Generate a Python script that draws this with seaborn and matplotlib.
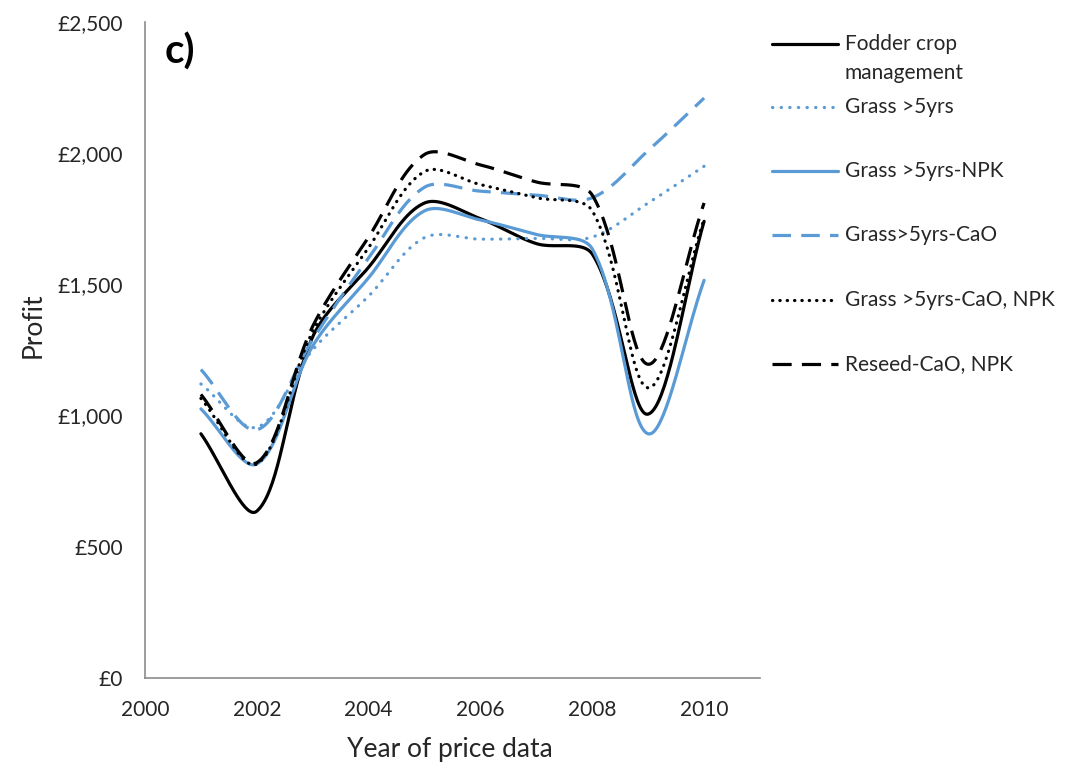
import numpy as np
import pandas as pd
import matplotlib
matplotlib.use("Agg")
import matplotlib.pyplot as plt
from matplotlib.lines import Line2D
from matplotlib.ticker import FuncFormatter
import seaborn as sns

# Profit per scenario, by year of price data
years = [2001, 2002, 2003, 2004, 2005, 2006, 2007, 2008, 2009, 2010]
fodder_crop = [930, 635, 1300, 1565, 1810, 1750, 1655, 1615, 1005, 1740]
grass_5yrs = [1120, 955, 1250, 1455, 1678, 1672, 1675, 1680, 1810, 1950]
grass_5yrs_npk = [1025, 815, 1265, 1525, 1780, 1745, 1690, 1635, 930, 1515]
grass_5yrs_cao = [1175, 945, 1290, 1600, 1870, 1855, 1840, 1830, 2010, 2210]
grass_5yrs_cao_npk = [1065, 815, 1320, 1640, 1930, 1880, 1830, 1780, 1105, 1750]
reseed_cao_npk = [1080, 820, 1340, 1680, 1995, 1955, 1890, 1840, 1195, 1810]

series_names = [
    "Fodder crop\nmanagement",
    "Grass >5yrs",
    "Grass >5yrs-NPK",
    "Grass>5yrs-CaO",
    "Grass >5yrs-CaO, NPK",
    "Reseed-CaO, NPK",
]
series_values = [fodder_crop, grass_5yrs, grass_5yrs_npk, grass_5yrs_cao,
                 grass_5yrs_cao_npk, reseed_cao_npk]

BLUE = "#5B9BD5"
BLACK = "#000000"
colors = [BLACK, BLUE, BLUE, BLUE, BLACK, BLACK]
dash_patterns = ["", (0.1, 2.6), "", (5.8, 3.2), (0.1, 2.2), (6.0, 3.2)]
round_dots = [False, True, False, False, True, False]
LW = 2.3

# screen scale of the plot area (pixels per year, pixels per pound)
SX, SY = 55.8, 0.2623


def smooth_curve(xs, ys, n=40):
    """Bezier smoothing through every point. The tangent at a point follows
    the chord between its neighbours; the arm lengths (a third of that chord
    in total) are shared out in proportion to the adjoining segments."""
    pts = np.column_stack([np.asarray(xs, float) * SX,
                           np.asarray(ys, float) * SY])
    m = len(pts)
    seg = np.hypot(*(pts[1:] - pts[:-1]).T)
    fwd = np.zeros_like(pts)
    back = np.zeros_like(pts)
    for i in range(m):
        a = pts[max(i - 1, 0)]
        b = pts[min(i + 1, m - 1)]
        chord = b - a
        lb = seg[i - 1] if i > 0 else 0.0
        lf = seg[i] if i < m - 1 else 0.0
        share = chord / 3.0 / (lb + lf)
        fwd[i] = share * lf
        back[i] = share * lb
    out = []
    for i in range(m - 1):
        p1, p2 = pts[i], pts[i + 1]
        c1 = p1 + fwd[i]
        c2 = p2 - back[i + 1]
        t = np.linspace(0, 1, n, endpoint=(i == m - 2))[:, None]
        bez = ((1 - t) ** 3) * p1 + 3 * ((1 - t) ** 2) * t * c1 \
            + 3 * (1 - t) * t ** 2 * c2 + t ** 3 * p2
        out.append(bez)
    curve = np.vstack(out)
    return curve[:, 0] / SX, curve[:, 1] / SY


frames = []
for name, vals in zip(series_names, series_values):
    cx, cy = smooth_curve(years, vals)
    frames.append(pd.DataFrame({"series": name, "year": cx, "profit": cy}))
df = pd.concat(frames, ignore_index=True)

sns.set_theme(style="white")
plt.rcParams["font.family"] = ["Lato", "DejaVu Sans"]

fig = plt.figure(figsize=(10.73, 7.71), dpi=100)
ax = fig.add_axes([145 / 1073, 1 - 677.7 / 771, 615 / 1073, 655.7 / 771])

sns.lineplot(
    data=df, x="year", y="profit", hue="series", style="series",
    hue_order=series_names, style_order=series_names,
    palette=dict(zip(series_names, colors)),
    dashes=dict(zip(series_names, dash_patterns)),
    sort=False, estimator=None, units="series", linewidth=LW,
    legend=False, ax=ax,
)
for line, rnd in zip(ax.lines, round_dots):
    if rnd:
        line.set_dash_capstyle("round")

ax.set_xlim(2000, 2011)
ax.set_ylim(0, 2500)
ax.set_xticks(range(2000, 2011, 2))
ax.set_yticks(range(0, 2501, 500))
ax.yaxis.set_major_formatter(FuncFormatter(lambda v, p: f"£{int(v):,}"))
ax.tick_params(axis="both", length=0, labelsize=15, colors="#262626")
ax.tick_params(axis="y", pad=16)
ax.tick_params(axis="x", pad=16)

for side in ["top", "right"]:
    ax.spines[side].set_visible(False)
for side in ["left", "bottom"]:
    ax.spines[side].set_color("#8C8C8C")
    ax.spines[side].set_linewidth(1.2)

ax.set_xlabel("Year of price data", fontsize=19, color="#262626")
ax.set_ylabel("Profit", fontsize=19, color="#262626")
ax.xaxis.set_label_coords(0.496, -0.109)
ax.xaxis.label.set_verticalalignment("center")
ax.yaxis.set_label_coords(-0.182, 0.538)
ax.yaxis.label.set_verticalalignment("center")

ax.text(0.032, 0.955, "c)", transform=ax.transAxes, fontsize=29,
        fontweight="bold", ha="left", va="center", color="#000000")

# Legend on the right-hand side
row_y = [44, 107, 171, 235, 300, 364]
for name, col, dsh, rnd, yy in zip(series_names, colors, dash_patterns,
                                   round_dots, row_y):
    yf = 1 - yy / 771
    ln = Line2D([772 / 1073, 838 / 1073], [yf, yf], transform=fig.transFigure,
                color=col, linewidth=LW)
    if dsh:
        ln.set_dashes(dsh)
    if rnd:
        ln.set_dash_capstyle("round")
    fig.add_artist(ln)
    first, *rest = name.split("\n")
    fig.text(845 / 1073, yf, first, fontsize=15, ha="left", va="center",
             color="#262626")
    for k, extra in enumerate(rest, start=1):
        fig.text(845 / 1073, 1 - (yy + 29 * k) / 771, extra, fontsize=15,
                 ha="left", va="center", color="#262626")

fig.savefig("out.png", dpi=100)
